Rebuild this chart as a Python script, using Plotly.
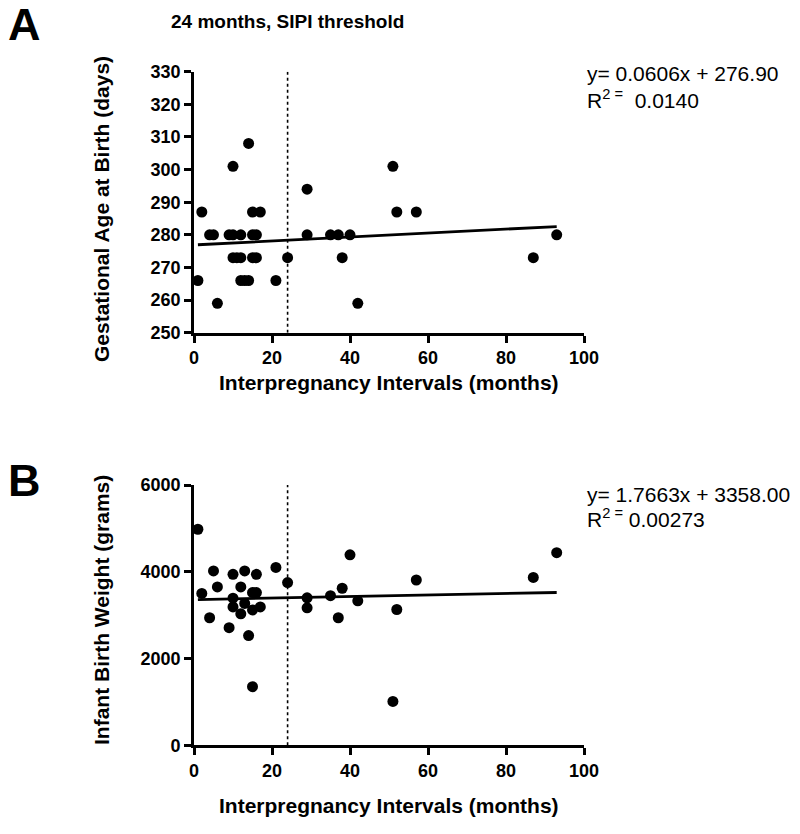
import plotly.graph_objects as go

# Panel A data: interpregnancy interval (months) vs gestational age (days)
ga_x = [2, 15, 17, 52, 57,
        4, 5, 9, 10, 12, 15, 16, 29, 35, 37, 40, 93,
        10, 11, 12, 15, 16, 24, 38, 87,
        1, 12, 13, 14, 21,
        6, 42,
        29,
        10, 51,
        14]
ga_y = [287, 287, 287, 287, 287,
        280, 280, 280, 280, 280, 280, 280, 280, 280, 280, 280, 280,
        273, 273, 273, 273, 273, 273, 273, 273,
        266, 266, 266, 266, 266,
        259, 259,
        294,
        301, 301,
        308]

# Panel B data: interpregnancy interval (months) vs birth weight (grams)
bw_x = [1, 2, 4, 5, 6, 9, 10, 10, 10, 12, 12, 13, 13, 14, 15, 15, 15, 16, 16, 17,
        21, 24, 29, 29, 35, 37, 38, 40, 42, 52, 51, 57, 87, 93]
bw_y = [4980, 3500, 2940, 4020, 3650, 2710, 3940, 3390, 3190, 3650, 3030, 4020, 3270,
        2530, 3520, 3120, 1350, 3940, 3520, 3190, 4100, 3750, 3400, 3170, 3450, 2940,
        3620, 4390, 3330, 3130, 1010, 3810, 3870, 4440]

# Regression fits (as printed on the chart)
ga_slope, ga_int, ga_r2 = 0.0606, 276.90, "0.0140"
bw_slope, bw_int, bw_r2 = 1.7663, 3358.00, "0.00273"
threshold = 24

x_ticks = [0, 20, 40, 60, 80, 100]

# page body has an 8px margin; size the figure so it fits the 800x834 window
OFF = 8
W, H = 800 - OFF, 834 - OFF
fig = go.Figure()

def px(x):
    return (x - OFF) / W

def py(y):
    return 1 - (y - OFF) / H

def add_panel(xs, ys, slope, icpt, xa, ya, yrange):
    fig.add_trace(go.Scatter(x=[threshold, threshold], y=yrange, mode="lines",
                             line=dict(color="black", width=1.6, dash="dot"),
                             xaxis=xa, yaxis=ya, showlegend=False, hoverinfo="skip"))
    x0, x1 = min(xs), max(xs)
    fig.add_trace(go.Scatter(x=[x0, x1], y=[slope * x0 + icpt, slope * x1 + icpt],
                             mode="lines", line=dict(color="black", width=2.8),
                             xaxis=xa, yaxis=ya, showlegend=False))
    fig.add_trace(go.Scatter(x=xs, y=ys, mode="markers",
                             marker=dict(color="black", size=11),
                             cliponaxis=False, xaxis=xa, yaxis=ya, showlegend=False))

add_panel(ga_x, ga_y, ga_slope, ga_int, "x", "y", [250, 330])
add_panel(bw_x, bw_y, bw_slope, bw_int, "x2", "y2", [0, 6000])

xd = [px(194), px(584)]
yA = [py(332.7), py(71.7)]
yB = [py(745.3), py(485)]

axfont = dict(family="Liberation Sans", size=18, color="black", weight="bold")
common = dict(showgrid=False, zeroline=False, showline=True, linecolor="black",
              linewidth=2.6, ticks="outside", ticklen=7, tickwidth=2.6,
              tickcolor="black", tickfont=axfont, automargin=False)

fig.update_layout(
    template="none",
    width=W, height=H, margin=dict(l=0, r=0, t=0, b=0),
    plot_bgcolor="white", paper_bgcolor="white",
    xaxis=dict(domain=xd, range=[0, 100], tickvals=x_ticks, anchor="y", **common),
    yaxis=dict(domain=yA, range=[250, 330], dtick=10, anchor="x", **common),
    xaxis2=dict(domain=xd, range=[0, 100], tickvals=x_ticks, anchor="y2", **common),
    yaxis2=dict(domain=yB, range=[0, 6000], dtick=2000, anchor="x2", **common),
)

def ann(text, x, y, size, bold=True, angle=0, xanchor="center", yanchor="middle"):
    fig.add_annotation(text=text, x=px(x), y=py(y), xref="paper", yref="paper",
                       showarrow=False, textangle=angle, xanchor=xanchor, yanchor=yanchor,
                       font=dict(family="Liberation Sans", size=size, color="black",
                                 weight="bold" if bold else "normal"))

ann("A", 6, 25, 45, xanchor="left")
ann("B", 6, 480, 45, xanchor="left")
ann("24 months, SIPI threshold", 169, 22, 19, xanchor="left")
ann("Gestational Age at Birth (days)", 101, 209, 21, angle=-90)
ann("Infant Birth Weight (grams)", 101, 610, 21, angle=-90)
ann("Interpregnancy Intervals (months)", 389, 383, 21)
ann("Interpregnancy Intervals (months)", 389, 805, 21)

ann(f"y= {ga_slope:.4f}x + {ga_int:.2f}", 585, 74, 21, bold=False, xanchor="left")
ann(f"R<sup>2 =</sup>  {ga_r2}", 585, 99, 21, bold=False, xanchor="left")
ann(f"y= {bw_slope:.4f}x + {bw_int:.2f}", 585, 494, 21, bold=False, xanchor="left")
ann(f"R<sup>2 =</sup> {bw_r2}", 585, 518, 21, bold=False, xanchor="left")

fig.write_html("out.html")
